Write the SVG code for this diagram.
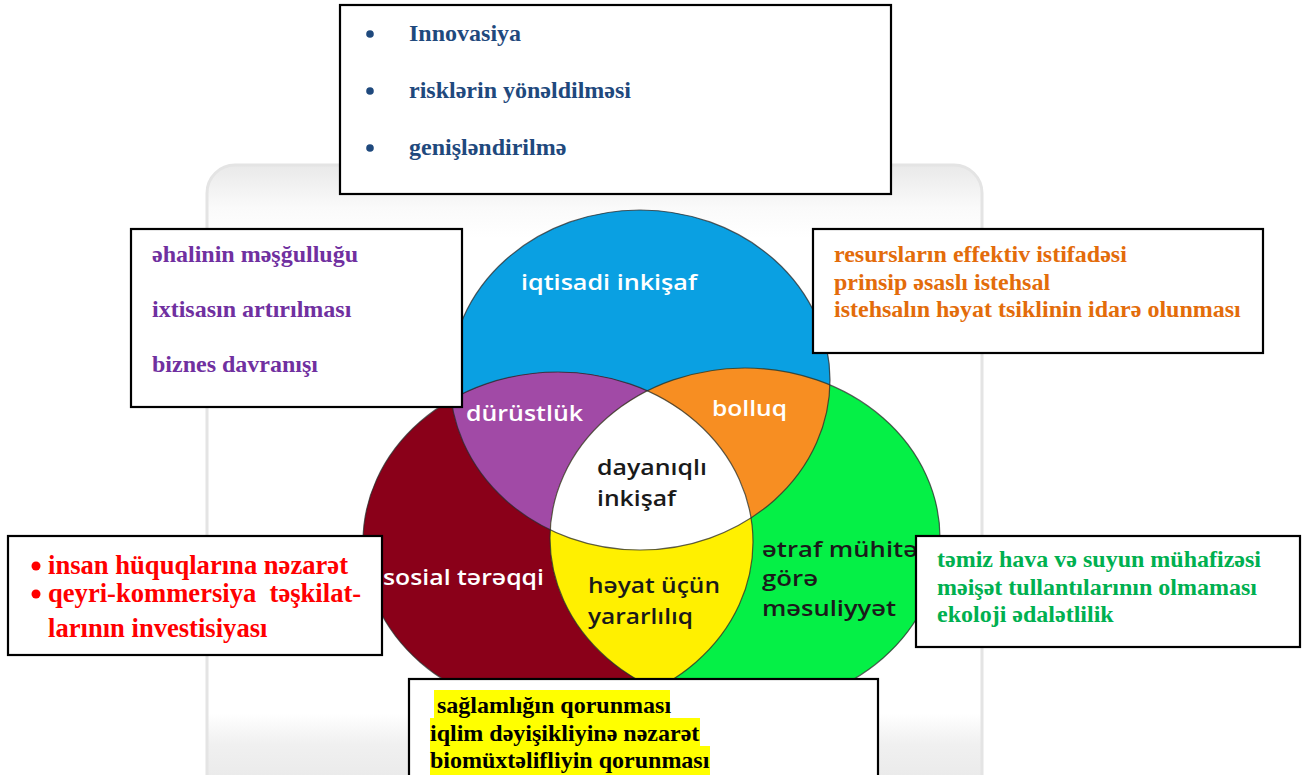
<svg xmlns="http://www.w3.org/2000/svg" width="1308" height="775" viewBox="0 0 1308 775">
<style>
.box{fill:#fff;stroke:#000;stroke-width:2.2}
.sf{font-family:"Liberation Serif","Times New Roman",serif;font-weight:bold;font-size:24px}
.lb{font-family:"Open Sans","Noto Sans",sans-serif;font-weight:600;font-size:22px}
.w{fill:#fff}
.k{fill:#1a1a1a}
.ol{fill:none;stroke:#2a2a2a;stroke-width:1.2;stroke-opacity:0.75}
</style>
<defs>
<linearGradient id="cardg" x1="0" y1="165" x2="0" y2="775" gradientUnits="userSpaceOnUse">
<stop offset="0" stop-color="#e9e9e9"/>
<stop offset="0.07" stop-color="#fafafa"/>
<stop offset="0.12" stop-color="#ffffff"/>
<stop offset="0.9" stop-color="#ffffff"/>
<stop offset="0.95" stop-color="#f0f0f0"/>
<stop offset="1" stop-color="#ebebeb"/>
</linearGradient>
<clipPath id="cBlue"><ellipse cx="640" cy="380" rx="190" ry="170"/></clipPath>
<clipPath id="cRed"><ellipse cx="558" cy="542" rx="195" ry="170"/></clipPath>
</defs>
<rect width="1308" height="775" fill="#fff"/>
<rect x="207" y="165" width="775" height="640" rx="28" fill="url(#cardg)" stroke="#e4e4e4" stroke-width="3"/>

<g id="venn">
<ellipse cx="640" cy="380" rx="190" ry="170" fill="#0AA0E2"/>
<ellipse cx="558" cy="542" rx="195" ry="170" fill="#8A0019"/>
<ellipse cx="745" cy="538" rx="195" ry="170" fill="#05F046"/>
<ellipse cx="558" cy="542" rx="195" ry="170" fill="#A14AA6" clip-path="url(#cBlue)"/>
<ellipse cx="745" cy="538" rx="195" ry="170" fill="#F78E22" clip-path="url(#cBlue)"/>
<ellipse cx="745" cy="538" rx="195" ry="170" fill="#FFF000" clip-path="url(#cRed)"/>
<g clip-path="url(#cBlue)"><ellipse cx="745" cy="538" rx="195" ry="170" fill="#fff" clip-path="url(#cRed)"/></g>
<ellipse class="ol" cx="640" cy="380" rx="190" ry="170"/>
<ellipse class="ol" cx="558" cy="542" rx="195" ry="170"/>
<ellipse class="ol" cx="745" cy="538" rx="195" ry="170"/>
<text class="lb w" x="521" y="290" textLength="176" lengthAdjust="spacingAndGlyphs">iqtisadi inkişaf</text>
<text class="lb w" x="466" y="421" textLength="117" lengthAdjust="spacingAndGlyphs">dürüstlük</text>
<text class="lb w" x="712" y="416" textLength="75" lengthAdjust="spacingAndGlyphs">bolluq</text>
<text class="lb k" x="597" y="475" textLength="110" lengthAdjust="spacingAndGlyphs">dayanıqlı</text>
<text class="lb k" x="597" y="506" textLength="79" lengthAdjust="spacingAndGlyphs">inkişaf</text>
<text class="lb w" x="383" y="585" textLength="161" lengthAdjust="spacingAndGlyphs">sosial tərəqqi</text>
<text class="lb k" x="588" y="593" textLength="132" lengthAdjust="spacingAndGlyphs">həyat üçün</text>
<text class="lb k" x="588" y="624" textLength="105" lengthAdjust="spacingAndGlyphs">yararlılıq</text>
<text class="lb k" x="762" y="557" textLength="156" lengthAdjust="spacingAndGlyphs">ətraf mühitə</text>
<text class="lb k" x="762" y="586" textLength="56" lengthAdjust="spacingAndGlyphs">görə</text>
<text class="lb k" x="762" y="616" textLength="134" lengthAdjust="spacingAndGlyphs">məsuliyyət</text>
</g>

<g id="connectors"></g>

<g id="box-top">
<rect class="box" x="340" y="5" width="551" height="189"/>
<g class="sf" fill="#1F497D">
<circle cx="370" cy="34" r="3.8"/>
<circle cx="370" cy="91" r="3.8"/>
<circle cx="370" cy="148" r="3.8"/>
<text x="409" y="41">Innovasiya</text>
<text x="409" y="98">risklərin yönəldilməsi</text>
<text x="409" y="155">genişləndirilmə</text>
</g>
</g>

<g id="box-left">
<rect class="box" x="131" y="229" width="331" height="178"/>
<g class="sf" fill="#7030A0">
<text x="152" y="262">əhalinin məşğulluğu</text>
<text x="152" y="317">ixtisasın artırılması</text>
<text x="152" y="372">biznes davranışı</text>
</g>
</g>

<g id="box-right">
<rect class="box" x="813" y="229" width="450" height="124"/>
<g class="sf" fill="#E36C0A">
<text x="834" y="262">resursların effektiv istifadəsi</text>
<text x="834" y="290">prinsip əsaslı istehsal</text>
<text x="834" y="317">istehsalın həyat tsiklinin idarə olunması</text>
</g>
</g>

<g id="box-bottomleft">
<rect class="box" x="8" y="536" width="374" height="119"/>
<g class="sf" fill="#FF0000" style="font-size:26.6px">
<circle cx="36" cy="566" r="4.5"/>
<circle cx="36" cy="594" r="4.5"/>
<text x="48" y="574">insan hüquqlarına nəzarət</text>
<text x="48" y="602" xml:space="preserve">qeyri-kommersiya  təşkilat-</text>
<text x="48" y="637">larının investisiyası</text>
</g>
</g>

<g id="box-green">
<rect class="box" x="916" y="536" width="384" height="111"/>
<g class="sf" fill="#00B050">
<text x="937" y="567">təmiz hava və suyun mühafizəsi</text>
<text x="937" y="595">məişət tullantılarının olmaması</text>
<text x="937" y="622">ekoloji ədalətlilik</text>
</g>
</g>

<g id="box-bottom">
<rect class="box" x="409" y="679" width="469" height="110"/>
<rect x="434" y="690" width="236" height="28" fill="#FFFF00"/>
<rect x="430" y="718" width="270" height="28" fill="#FFFF00"/>
<rect x="430" y="746" width="280" height="29" fill="#FFFF00"/>
<g class="sf" fill="#000">
<text x="437" y="713">sağlamlığın qorunması</text>
<text x="430" y="741">iqlim dəyişikliyinə nəzarət</text>
<text x="430" y="768">biomüxtəlifliyin qorunması</text>
</g>
</g>
</svg>
